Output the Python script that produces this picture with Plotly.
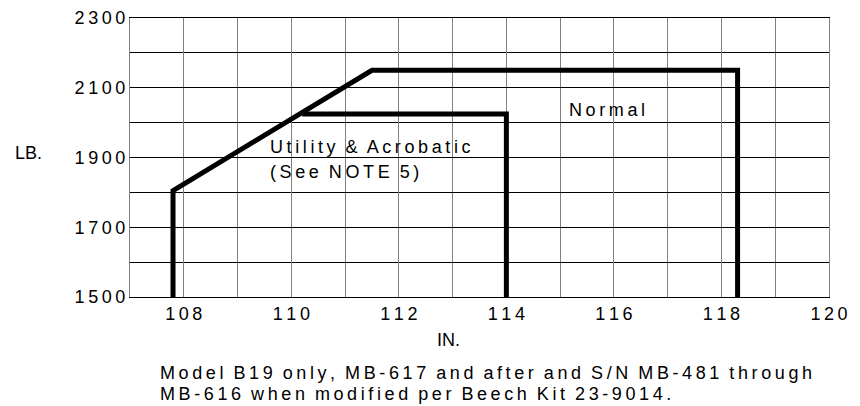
import plotly.graph_objects as go

# Weight & balance envelope (LB. vs IN.)
normal_arm = [107.8, 107.8, 111.5, 118.3, 118.3]
normal_weight = [1500, 1805, 2150, 2150, 1500]

utility_arm = [110.2, 114.0, 114.0]
utility_weight = [2025, 2025, 1500]

x_ticks = [108, 110, 112, 114, 116, 118, 120]
y_ticks = [1500, 1700, 1900, 2100, 2300]

FONT = "Liberation Sans, Arial, sans-serif"
SP = "\u2009"


def spaced(s):
    # mimic the wide letter tracking of the original drawing
    return SP.join(str(s)).replace(SP + " " + SP, "  ")


fig = go.Figure()

for xs, ys in [(normal_arm, normal_weight), (utility_arm, utility_weight)]:
    fig.add_trace(go.Scatter(
        x=xs, y=ys,
        mode="lines",
        line=dict(color="black", width=5),
        showlegend=False,
        hoverinfo="skip",
    ))

label_font = dict(family=FONT, size=18, color="black")

fig.add_annotation(x=109.57, y=1930, text=spaced("Utility & Acrobatic"),
                   xanchor="left", yanchor="middle", showarrow=False, font=label_font)
fig.add_annotation(x=109.57, y=1858, text=spaced("(See NOTE 5)"),
                   xanchor="left", yanchor="middle", showarrow=False, font=label_font)
fig.add_annotation(x=115.13, y=2036, text=spaced("Normal"),
                   xanchor="left", yanchor="middle", showarrow=False, font=label_font)

# axis titles placed like the original drawing
fig.add_annotation(x=-0.167, y=0.516, xref="paper", yref="paper", text="LB.",
                   xanchor="left", yanchor="middle", showarrow=False, font=label_font)
fig.add_annotation(x=0.456, y=-0.154, xref="paper", yref="paper", text="IN.",
                   xanchor="center", yanchor="middle", showarrow=False, font=label_font)

caption_font = dict(family=FONT, size=18, color="black")
fig.add_annotation(x=0.040, y=-0.272, xref="paper", yref="paper",
                   text=spaced("Model B19 only, MB-617 and after and S/N MB-481 through"),
                   xanchor="left", yanchor="middle", showarrow=False, font=caption_font)
fig.add_annotation(x=0.040, y=-0.346, xref="paper", yref="paper",
                   text=spaced("MB-616 when modified per Beech Kit 23-9014."),
                   xanchor="left", yanchor="middle", showarrow=False, font=caption_font)

fig.update_layout(
    width=852, height=398,
    margin=dict(l=122, r=31, t=10, b=109),
    plot_bgcolor="white",
    paper_bgcolor="white",
    font=dict(family=FONT, size=18, color="black"),
    xaxis=dict(
        range=[107, 120],
        tickvals=x_ticks,
        ticktext=[spaced(v) for v in x_ticks],
        showgrid=True, gridcolor="#808080", gridwidth=1,
        minor=dict(dtick=1, tick0=107, showgrid=True, gridcolor="#808080", gridwidth=1),
        showline=True, linecolor="black", linewidth=1, mirror=True,
        zeroline=False, ticks="", automargin=False,
        tickfont=dict(family=FONT, size=18, color="black"),
    ),
    yaxis=dict(
        range=[1500, 2300],
        tickvals=y_ticks,
        ticktext=[spaced(v) for v in y_ticks],
        showgrid=True, gridcolor="black", gridwidth=1,
        minor=dict(dtick=100, tick0=1500, showgrid=True, gridcolor="black", gridwidth=1),
        showline=True, linecolor="#808080", linewidth=1, mirror=True,
        zeroline=False, ticks="", automargin=False,
        tickfont=dict(family=FONT, size=18, color="black"),
    ),
)

fig.write_html("out.html")
